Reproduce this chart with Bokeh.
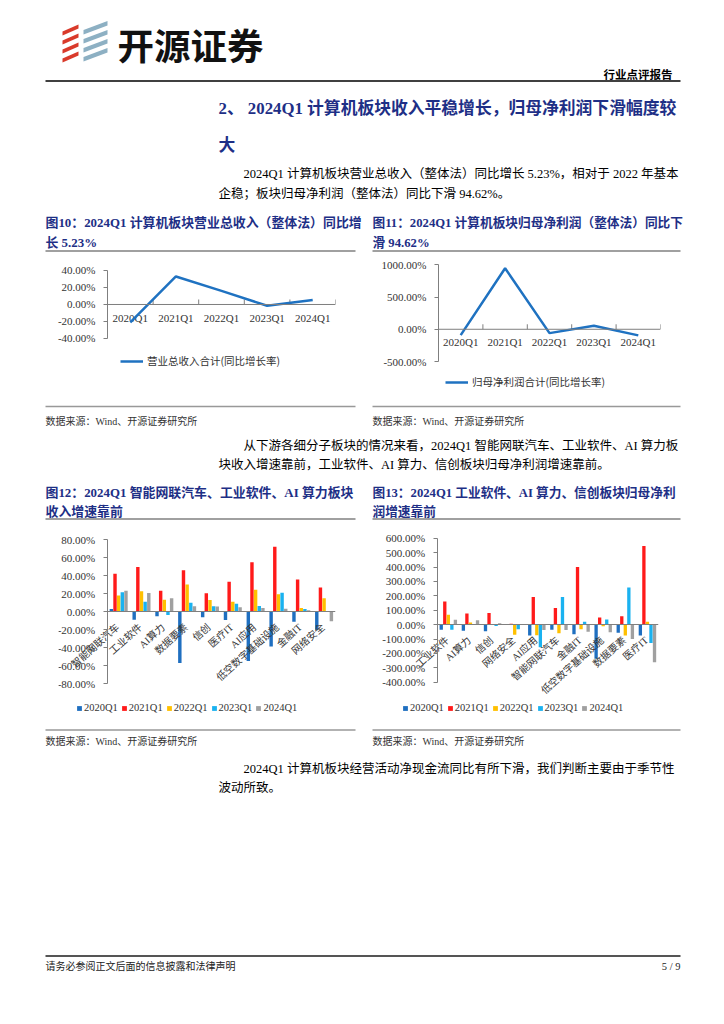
import math
from bokeh.plotting import figure
from bokeh.models import (Range1d, FactorRange, Legend, LegendItem, FixedTicker,
                          PrintfTickFormatter, ColumnDataSource, Span)
from bokeh.transform import dodge
from bokeh.layouts import column, row
from bokeh.core.properties import value
from bokeh.embed import file_html
from bokeh.resources import INLINE

# ---------------- data ----------------
quarters = ["2020Q1", "2021Q1", "2022Q1", "2023Q1", "2024Q1"]
revenue_yoy = [-21.0, 33.0, 16.0, -1.5, 5.23]
profit_yoy = [-90.0, 947.0, -60.0, 54.0, -94.62]

rev_sectors = ["智能网联汽车", "工业软件", "AI算力", "数据要素", "信创", "医疗IT",
               "AI应用", "低空数字基础设施", "金融IT", "网络安全"]
rev_2020 = [3.0, -8.9, -5.2, -57.0, -6.3, -9.3, -54.8, -38.5, -11.1, -20.0]
rev_2021 = [41.9, 49.6, 23.3, 45.9, 20.4, 33.3, 54.8, 71.9, 35.6, 26.7]
rev_2022 = [17.8, 22.6, 13.3, 30.0, 13.0, 11.1, 24.4, 19.3, 4.1, 14.8]
rev_2023 = [21.5, 11.1, -3.7, 10.0, 5.9, 8.9, 6.3, 21.1, 3.0, 0.3]
rev_2024 = [23.3, 20.7, 14.8, 5.9, 5.6, 4.8, 4.1, 3.3, 1.5, -10.7]

prof_sectors = ["工业软件", "AI算力", "信创", "网络安全", "AI应用", "智能网联汽车",
                "金融IT", "低空数字基础设施", "数据要素", "医疗IT"]
prof_2020 = [-35, -43, -47, -3, -76, -35, -67, -238, -56, -76]
prof_2021 = [161, 77, 80, 6, 192, 116, 400, 49, 58, 546]
prof_2022 = [68, 14, 2, -70, -74, -60, -32, -12, -76, 19]
prof_2023 = [-35, 4, -9, -32, -157, 192, 19, 35, 257, -127]
prof_2024 = [34, 31, 10, 3, -37, -37, -49, -53, -100, -262]

series_names = ["2020Q1", "2021Q1", "2022Q1", "2023Q1", "2024Q1"]
series_colors = ["#1F6FC0", "#FF1A1A", "#FFC000", "#1AB2F0", "#A0A0A0"]

rev_ticks = [-40, -20, 0, 20, 40]
prof_ticks = [-500, 0, 500, 1000]
rev_bar_ticks = [-80, -60, -40, -20, 0, 20, 40, 60, 80]
prof_bar_ticks = [-400, -300, -200, -100, 0, 100, 200, 300, 400, 500, 600]

# ---------------- style helpers ----------------
SERIF = "Liberation Serif, Noto Sans CJK SC"
SANS_CJK = "Noto Sans CJK SC"
NAVY = "#1E2F86"
AXIS = "#7F7F7F"
LABEL = "#333333"


def text_fig(top, h):
    p = figure(width=724, height=h, x_range=Range1d(0, 724), y_range=Range1d(top + h, top),
               output_backend="svg", toolbar_location=None, min_border=0,
               x_axis_location=None, y_axis_location=None)
    p.outline_line_color = None
    p.grid.visible = False
    return p


def txt(p, x, y, s, size, color="#000000", bold=False, align="left", font=SERIF):
    p.text(x=[x], y=[y], text=[s], text_font=value(font), text_font_size=value(f"{size}px"),
           text_color=color, text_font_style="bold" if bold else "normal",
           text_align=align, text_baseline="middle")


def hline(p, x0, x1, y, color, w):
    p.line(x=[x0, x1], y=[y, y], line_color=color, line_width=w)


def style_yaxis(p, ticks):
    ax = p.yaxis[0]
    ax.ticker = FixedTicker(ticks=ticks)
    ax.formatter = PrintfTickFormatter(format="%.2f%%")
    ax.bounds = (ticks[0], ticks[-1])
    ax.major_tick_out = 4
    ax.major_tick_in = 0
    ax.minor_tick_line_color = None
    ax.axis_line_color = AXIS
    ax.major_tick_line_color = AXIS
    ax.major_label_text_font = "Liberation Serif"
    ax.major_label_text_font_size = "11px"
    ax.major_label_text_color = LABEL
    ax.major_label_standoff = 8


def base(w, h, ml, mr, mt, mb, xr, yr, xloc):
    p = figure(width=w, height=h, x_range=xr, y_range=yr, output_backend="svg",
               toolbar_location=None, min_border_left=ml, min_border_right=mr,
               min_border_top=mt, min_border_bottom=mb, x_axis_location=xloc)
    p.outline_line_color = None
    p.grid.visible = False
    return p


def line_chart(w, h, ml, mr, mt, mb, values, yr, ticks, label, loc, lab_off):
    src = ColumnDataSource(dict(q=quarters, v=values))
    p = base(w, h, ml, mr, mt, mb, FactorRange(factors=quarters), Range1d(*yr), None)
    style_yaxis(p, ticks)
    p.add_layout(Span(location=0, dimension="width", line_color=AXIS, line_width=1))
    p.ray(x=dodge("q", 0.5, range=p.x_range), y=0, length=5, length_units="screen",
          angle=math.pi / 2, line_color=AXIS, line_width=1, source=src)
    p.text(x="q", y=0, text="q", y_offset=lab_off, text_align="center", text_baseline="middle",
           text_font=value("Liberation Serif"), text_font_size=value("11px"),
           text_color=LABEL, source=src)
    r = p.line(x="q", y="v", line_color="#1F72C1", line_width=2.5, source=src)
    leg = Legend(items=[LegendItem(label=value(label), renderers=[r])], location=loc,
                 orientation="horizontal", glyph_width=23, glyph_height=12, label_height=12,
                 label_text_font=SANS_CJK, label_text_font_size="10.5px",
                 label_text_color=LABEL, label_standoff=4, padding=0, margin=0,
                 border_line_color=None, background_fill_alpha=0)
    p.add_layout(leg)
    return p


def bar_chart(w, h, ml, mr, mt, mb, cats, series, xr, yr, ticks, loc):
    data = dict(idx=list(range(len(cats))), cat=cats)
    for i, s in enumerate(series):
        data[f"s{i}"] = s
    src = ColumnDataSource(data)
    p = base(w, h, ml, mr, mt, mb, Range1d(*xr), Range1d(*yr), "below")
    style_yaxis(p, ticks)
    p.yaxis.fixed_location = -0.5
    p.xaxis.fixed_location = 0
    p.xaxis.ticker = FixedTicker(ticks=[])
    p.xaxis.bounds = (-0.5, len(cats) - 0.5)
    p.xaxis.axis_line_color = AXIS
    p.xaxis.minor_tick_line_color = None
    offsets = [-0.32, -0.16, 0.0, 0.16, 0.32]
    items = []
    for i in range(len(series)):
        r = p.vbar(x=dodge("idx", offsets[i]), top=f"s{i}", bottom=0,
                   width=0.15, fill_color=series_colors[i], line_color=None, source=src)
        items.append(LegendItem(label=value(series_names[i]), renderers=[r]))
    p.text(x="idx", y=0, text="cat", angle=0.73, text_align="right", text_baseline="middle",
           y_offset=14, x_offset=-1, text_font=value(SERIF), text_font_size=value("10px"),
           text_color=LABEL, source=src)
    leg = Legend(items=items, location=loc, orientation="horizontal", glyph_width=6,
                 glyph_height=6, label_text_font="Liberation Serif", label_text_font_size="10.5px",
                 label_text_color=LABEL, label_standoff=2, spacing=3, padding=0, margin=0,
                 border_line_color=None, background_fill_alpha=0, label_height=10)
    p.add_layout(leg)
    return p


# ---------------- header ----------------
head = text_fig(0, 252)
red_x, red_y, blue_x, blue_y = [], [], [], []
for yb in [35, 44, 53, 62]:
    red_x.append([62, 78, 78, 62])
    red_y.append([yb, yb - 7, yb - 11, yb - 4])
for yb in [34, 43, 52, 61]:
    blue_x.append([83, 107, 107, 83])
    blue_y.append([yb, yb - 9, yb - 13.5, yb - 4.5])
head.patches(xs=red_x, ys=red_y, fill_color="#D93A2B", line_color=None)
head.patches(xs=blue_x, ys=blue_y, fill_color="#8DB0C3", line_color=None)
txt(head, 117, 44, "开源证券", 36.5, "#111111", True, font=SANS_CJK)
txt(head, 672, 73, "行业点评报告", 11.5, "#000000", True, "right", font=SANS_CJK)
hline(head, 45, 680, 80.5, "#000000", 1.5)
txt(head, 218, 108, "2、 2024Q1 计算机板块收入平稳增长，归母净利润下滑幅度较", 16.8, NAVY, True)
txt(head, 218, 145, "大", 16.8, NAVY, True)
txt(head, 243, 173, "2024Q1 计算机板块营业总收入（整体法）同比增长 5.23%，相对于 2022 年基本", 12.5)
txt(head, 218, 193, "企稳；板块归母净利润（整体法）同比下滑 94.62%。", 12.5)
txt(head, 45, 222, "图10：2024Q1 计算机板块营业总收入（整体法）同比增", 12.9, NAVY, True)
txt(head, 45, 242, "长 5.23%", 12.9, NAVY, True)
txt(head, 372, 222, "图11：2024Q1 计算机板块归母净利润（整体法）同比下", 12.7, NAVY, True)
txt(head, 372, 242, "滑 94.62%", 12.7, NAVY, True)
hline(head, 45, 355, 250.5, "#808080", 1.5)
hline(head, 372, 680, 250.5, "#808080", 1.5)

# ---------------- chart row 1 (y 252..404) ----------------
f10 = line_chart(364, 152, 107, 29, 10, 6, revenue_yoy, (-110.59, 49.41), rev_ticks,
                 "营业总收入合计(同比增长率)", (13, 30), 14)
f11 = line_chart(360, 152, 74, 64, 10, 6, profit_yoy, (-1073.9, 1035.7), prof_ticks,
                 "归母净利润合计(同比增长率)", (7, 9), 13)

# ---------------- middle ----------------
mid = text_fig(404, 118)
hline(mid, 45, 355, 406, "#999999", 1.5)
hline(mid, 372, 680, 406, "#999999", 1.5)
txt(mid, 45, 421, "数据来源：Wind、开源证券研究所", 10, "#333333")
txt(mid, 372, 421, "数据来源：Wind、开源证券研究所", 10, "#333333")
txt(mid, 243, 445, "从下游各细分子板块的情况来看，2024Q1 智能网联汽车、工业软件、AI 算力板", 12.5)
txt(mid, 218, 464, "块收入增速靠前，工业软件、AI 算力、信创板块归母净利润增速靠前。", 12.5)
txt(mid, 45, 492, "图12：2024Q1 智能网联汽车、工业软件、AI 算力板块", 12.9, NAVY, True)
txt(mid, 45, 511, "收入增速靠前", 12.9, NAVY, True)
txt(mid, 372, 492, "图13：2024Q1 工业软件、AI 算力、信创板块归母净利", 12.7, NAVY, True)
txt(mid, 372, 511, "润增速靠前", 12.7, NAVY, True)
hline(mid, 45, 355, 518.5, "#808080", 1.5)
hline(mid, 372, 680, 518.5, "#808080", 1.5)

# ---------------- chart row 2 (y 522..728) ----------------
f12 = bar_chart(364, 206, 58, 29, 6, 4, rev_sectors,
                [rev_2020, rev_2021, rev_2022, rev_2023, rev_2024],
                (-2.636, 9.5), (-125.1, 92.2), rev_bar_ticks, (18, 11))
f13 = bar_chart(360, 206, 14, 66, 6, 4, prof_sectors,
                [prof_2020, prof_2021, prof_2022, prof_2023, prof_2024],
                (-3.156, 9.5), (-693.75, 667.4), prof_bar_ticks, (24, 11))

# ---------------- bottom ----------------
bot = text_fig(728, 292)
hline(bot, 45, 355, 729.5, "#999999", 1.5)
hline(bot, 372, 680, 729.5, "#999999", 1.5)
txt(bot, 45, 741, "数据来源：Wind、开源证券研究所", 10, "#333333")
txt(bot, 372, 741, "数据来源：Wind、开源证券研究所", 10, "#333333")
txt(bot, 243, 768, "2024Q1 计算机板块经营活动净现金流同比有所下滑，我们判断主要由于季节性", 12.5)
txt(bot, 218, 787, "波动所致。", 12.5)
hline(bot, 45, 680, 955.5, "#555555", 2)
txt(bot, 45, 966, "请务必参阅正文后面的信息披露和法律声明", 10, "#222222")
txt(bot, 680, 966, "5 / 9", 10.5, "#222222", align="right")

page = column(head, row(f10, f11), mid, row(f12, f13), bot)
open("out.html", "w").write(file_html(page, INLINE))
